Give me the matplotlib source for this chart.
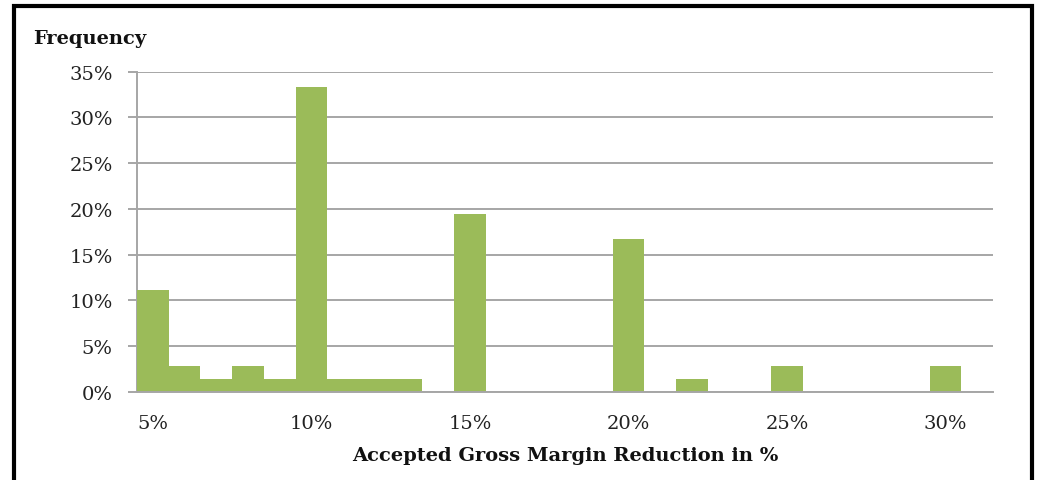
import matplotlib
matplotlib.use("Agg")
import matplotlib.pyplot as plt
from matplotlib.patches import Rectangle
from matplotlib.ticker import FuncFormatter

# Data: accepted gross margin reduction (%) categories and their relative frequency (%)
reduction = list(range(5, 32))
frequency = [11.1, 2.8, 1.4, 2.8, 1.4, 33.3, 1.4, 1.4, 1.4, 0.0,
             19.4, 0.0, 0.0, 0.0, 0.0, 16.7, 0.0, 1.4, 0.0, 0.0,
             2.8, 0.0, 0.0, 0.0, 0.0, 2.8, 0.0]
xtick_values = [5, 10, 15, 20, 25, 30]
ytick_values = [0, 5, 10, 15, 20, 25, 30, 35]

W, H = 1038, 481
fig = plt.figure(figsize=(W / 100, H / 100), dpi=100)
ax = fig.add_axes([137 / W, 1 - 392.7 / H, (993 - 137) / W, (392.7 - 72.7) / H])

font = "DejaVu Serif"
grid_col = "#a6a6a6"

ax.bar(reduction, frequency, width=1.0, color="#9bbb59", zorder=3)
ax.set_xlim(4.5, 31.5)
ax.set_ylim(0, 35)

ax.set_yticks(ytick_values)
ax.yaxis.set_major_formatter(FuncFormatter(lambda v, p: f"{v:.0f}%"))
ax.set_xticks(xtick_values)
ax.xaxis.set_major_formatter(FuncFormatter(lambda v, p: f"{v:.0f}%"))

ax.grid(axis="y", color=grid_col, linewidth=1.4, zorder=0)
for s in ["top", "right"]:
    ax.spines[s].set_visible(False)
ax.spines["left"].set_color(grid_col)
ax.spines["left"].set_linewidth(1.4)
ax.spines["bottom"].set_color(grid_col)
ax.spines["bottom"].set_linewidth(1.4)
ax.spines["bottom"].set_zorder(4)

ax.tick_params(axis="y", direction="out", length=6.5, width=1.4, color=grid_col,
               pad=11, labelsize=14, labelcolor="#222222")
ax.tick_params(axis="x", length=0, pad=16, labelsize=14, labelcolor="#222222")
for lab in ax.get_xticklabels() + ax.get_yticklabels():
    lab.set_fontfamily(font)

ax.set_xlabel("Accepted Gross Margin Reduction in %", fontfamily=font,
              fontweight="bold", fontsize=14, labelpad=10, color="#111111")

fig.text(33 / W, 1 - 39 / H, "Frequency", fontfamily=font, fontweight="bold",
         fontsize=14, ha="left", va="center", color="#111111")

# outer black frame (bottom edge lies outside the image)
frame = Rectangle((14 / W, -0.05), (1032 - 14) / W, 1.05 - 7.3 / H,
                  transform=fig.transFigure, fill=False, edgecolor="black",
                  linewidth=3, clip_on=False)
fig.add_artist(frame)

fig.savefig("out.png", dpi=100)
